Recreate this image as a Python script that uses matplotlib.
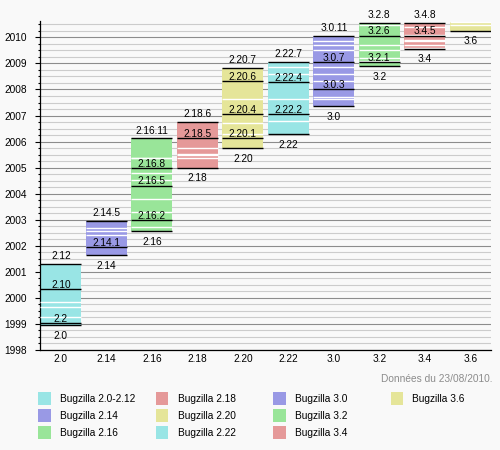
import matplotlib
matplotlib.use('Agg')
import matplotlib.pyplot as plt
from matplotlib.patches import Rectangle
from matplotlib.ticker import MultipleLocator, FormatStrFormatter

# Branches (x axis) and legend
branches = ['2.0', '2.14', '2.16', '2.18', '2.20', '2.22', '3.0', '3.2', '3.4', '3.6']
legend_names = ['Bugzilla 2.0-2.12', 'Bugzilla 2.14', 'Bugzilla 2.16', 'Bugzilla 2.18',
                'Bugzilla 2.20', 'Bugzilla 2.22', 'Bugzilla 3.0', 'Bugzilla 3.2',
                'Bugzilla 3.4', 'Bugzilla 3.6']
colors = ['#99e5e5', '#9999e5', '#99e599', '#e59999', '#e5e599',
          '#99e5e5', '#9999e5', '#99e599', '#e59999', '#e5e599']

# Releases of each branch, dates as decimal years
rel_2_0 = ['2.0', '2.2', '2.4', '2.6', '2.8', '2.10', '2.12']
date_2_0 = [1998.96, 1999.03, 1999.28, 1999.64, 1999.85, 2000.33, 2001.29]
rel_2_14 = ['2.14', '2.14.1', '2.14.2', '2.14.3', '2.14.4', '2.14.5']
date_2_14 = [2001.64, 2001.96, 2002.42, 2002.55, 2002.68, 2002.97]
rel_2_16 = ['2.16', '2.16.1', '2.16.2', '2.16.3', '2.16.4', '2.16.5', '2.16.6',
            '2.16.7', '2.16.8', '2.16.9', '2.16.10', '2.16.11']
date_2_16 = [2002.56, 2002.74, 2002.98, 2003.30, 2003.81, 2004.31, 2004.53,
             2004.81, 2004.99, 2005.36, 2005.38, 2006.12]
rel_2_18 = ['2.18', '2.18.1', '2.18.2', '2.18.3', '2.18.4', '2.18.5', '2.18.6']
date_2_18 = [2005.00, 2005.37, 2005.50, 2005.52, 2005.75, 2006.13, 2006.77]
rel_2_20 = ['2.20', '2.20.1', '2.20.2', '2.20.3', '2.20.4', '2.20.5', '2.20.6', '2.20.7']
date_2_20 = [2005.74, 2006.12, 2006.30, 2006.72, 2007.06, 2007.64, 2008.31, 2008.84]
rel_2_22 = ['2.22', '2.22.1', '2.22.2', '2.22.3', '2.22.4', '2.22.5', '2.22.6', '2.22.7']
date_2_22 = [2006.28, 2006.78, 2007.06, 2007.65, 2008.30, 2008.61, 2008.85, 2009.07]
rel_3_0 = ['3.0', '3.0.1', '3.0.2', '3.0.3', '3.0.4', '3.0.5', '3.0.6', '3.0.7',
           '3.0.8', '3.0.9', '3.0.10', '3.0.11']
date_3_0 = [2007.35, 2007.64, 2007.71, 2008.01, 2008.34, 2008.61, 2008.85, 2009.06,
            2009.52, 2009.69, 2009.85, 2010.07]
rel_3_2 = ['3.2', '3.2.1', '3.2.2', '3.2.3', '3.2.4', '3.2.5', '3.2.6', '3.2.7', '3.2.8']
date_3_2 = [2008.89, 2009.06, 2009.08, 2009.20, 2009.52, 2009.69, 2010.07, 2010.47, 2010.57]
rel_3_4 = ['3.4', '3.4.1', '3.4.2', '3.4.3', '3.4.4', '3.4.5', '3.4.6', '3.4.7', '3.4.8']
date_3_4 = [2009.57, 2009.58, 2009.71, 2009.86, 2009.89, 2010.07, 2010.10, 2010.40, 2010.57]
rel_3_6 = ['3.6', '3.6.1', '3.6.2']
date_3_6 = [2010.26, 2010.47, 2010.60]

# Releases written on the chart (black lines)
labelled = ['2.0', '2.2', '2.10', '2.12', '2.14', '2.14.1', '2.14.5',
            '2.16', '2.16.2', '2.16.5', '2.16.8', '2.16.11', '2.18', '2.18.5', '2.18.6',
            '2.20', '2.20.1', '2.20.4', '2.20.6', '2.20.7', '2.22', '2.22.2', '2.22.4', '2.22.7',
            '3.0', '3.0.3', '3.0.7', '3.0.11', '3.2', '3.2.1', '3.2.6', '3.2.8',
            '3.4', '3.4.5', '3.4.8', '3.6']

data_date = 'Données du 23/08/2010.'

releases = [rel_2_0, rel_2_14, rel_2_16, rel_2_18, rel_2_20, rel_2_22, rel_3_0, rel_3_2, rel_3_4, rel_3_6]
dates = [date_2_0, date_2_14, date_2_16, date_2_18, date_2_20, date_2_22, date_3_0, date_3_2, date_3_4, date_3_6]

plt.rcParams['font.family'] = ['Liberation Sans', 'DejaVu Sans']
fs = 7.3
bg = '#f9f9f9'

fig = plt.figure(figsize=(5, 4.5), dpi=100, facecolor=bg)
ax = fig.add_axes([40 / 500, 100 / 450, 450.7 / 500, 329.3 / 450])
ax.set_facecolor(bg)

width = 0.9
for i, (rel, dt) in enumerate(zip(releases, dates)):
	ax.bar(i, dt[-1] - dt[0], bottom=dt[0], width=width, color=colors[i], linewidth=0, zorder=2)
	for j, (r, d) in enumerate(zip(rel, dt)):
		if r in labelled:
			ax.hlines(d, i - width / 2, i + width / 2, colors='black', lw=1.0, zorder=4)
			if j == 0:
				ax.annotate(r, (i, d), xytext=(0, -4), textcoords='offset points',
				            ha='center', va='top', fontsize=fs, zorder=5)
			elif j == len(rel) - 1:
				ax.annotate(r, (i, d), xytext=(0, 3.5), textcoords='offset points',
				            ha='center', va='baseline', fontsize=fs, zorder=5)
			else:
				ax.annotate(r, (i, d), xytext=(0, 0.8), textcoords='offset points',
				            ha='center', va='baseline', fontsize=fs, zorder=5)
		else:
			ax.hlines(d, i - width / 2, i + width / 2, colors='white', lw=1.0, zorder=3)

ax.set_xlim(-0.458, 9.45)
ax.set_ylim(1998, 2010.64)
ax.set_xticks(range(len(branches)))
ax.set_xticklabels(branches)
ax.yaxis.set_major_locator(MultipleLocator(1))
ax.yaxis.set_minor_locator(MultipleLocator(0.25))
ax.yaxis.set_major_formatter(FormatStrFormatter('%d'))
ax.tick_params(axis='x', length=0, pad=3, labelsize=fs)
ax.tick_params(axis='y', which='major', length=3.5, width=0.8, pad=6, labelsize=fs)
ax.tick_params(axis='y', which='minor', length=1.7, width=0.8)
ax.grid(which='major', axis='y', color='#8c8c8c', lw=0.8)
ax.grid(which='minor', axis='y', color='#cccccc', lw=0.8)
ax.set_axisbelow(True)
ax.spines['right'].set_visible(False)
ax.spines['top'].set_visible(False)
ax.spines['left'].set_linewidth(0.9)
ax.spines['bottom'].set_linewidth(0.9)

fig.text(492.7 / 500, 1 - 379.3 / 450, data_date, ha='right', va='center', fontsize=fs, color='#8c8c8c')

# Legend laid out by hand: 3 rows, filled column by column
for k, name in enumerate(legend_names):
	col, row = k // 3, k % 3
	x0 = 38 + col * 117.5
	yc = 398.7 + row * 17
	fig.add_artist(Rectangle((x0 / 500, 1 - (yc + 6.3) / 450), 12.7 / 500, 12.7 / 450,
	                         transform=fig.transFigure, color=colors[k], lw=0))
	fig.text((x0 + 22) / 500, 1 - yc / 450, name, ha='left', va='center', fontsize=fs)

fig.savefig('out.png', dpi=100, facecolor=bg)
